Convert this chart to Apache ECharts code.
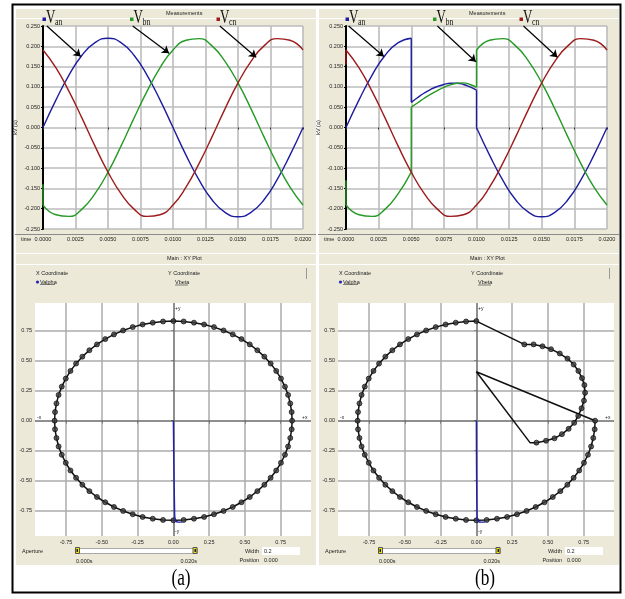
<!DOCTYPE html>
<html>
<head>
<meta charset="utf-8">
<title>Van Vbn Vcn / XY Plot</title>
<script src="https://cdn.jsdelivr.net/npm/echarts@6/dist/echarts.min.js"></script>
<style>
html, body { margin: 0; padding: 0; background: #fff; }
#main { width: 625px; height: 599px; }
</style>
</head>
<body>
<div id="main"></div>
<script>
// Measurements : sample instants (s) and phase voltages (kV)
var timeS = [0, 0.001, 0.002, 0.003, 0.004, 0.005, 0.006, 0.007, 0.008, 0.009, 0.010,
             0.011, 0.012, 0.013, 0.014, 0.015, 0.016, 0.017, 0.018, 0.019, 0.020];
var vanA = [0, 0.068, 0.129, 0.178, 0.209, 0.220, 0.209, 0.178, 0.129, 0.068, 0,
            -0.068, -0.129, -0.178, -0.209, -0.220, -0.209, -0.178, -0.129, -0.068, 0];
var vbnA = [-0.191, -0.215, -0.219, -0.201, -0.163, -0.110, -0.046, 0.023, 0.089, 0.147, 0.191,
            0.215, 0.219, 0.201, 0.163, 0.110, 0.046, -0.023, -0.089, -0.147, -0.191];
var vcnA = [0.191, 0.147, 0.089, 0.023, -0.046, -0.110, -0.163, -0.201, -0.219, -0.215, -0.191,
            -0.147, -0.089, -0.023, 0.046, 0.110, 0.163, 0.201, 0.219, 0.215, 0.191];
// first sample of some traces, before they land on the sine
var vbnStartA = -0.14;
var vbnStartB = -0.13;
var vcnStartB = 0.155;

// (b) fault window 0.005 s .. 0.010 s
var faultT = [0.005, 0.0055, 0.006, 0.0065, 0.007, 0.0075, 0.008, 0.0085, 0.009, 0.0095, 0.010];
var faultVan = [0.062, 0.074, 0.085, 0.094, 0.101, 0.106, 0.109, 0.109, 0.106, 0.100, 0.092];
var faultVbn = [0.050, 0.061, 0.072, 0.082, 0.091, 0.099, 0.105, 0.109, 0.110, 0.106, 0.099];

// XY Plot : Valpha / Vbeta samples
var valpha = [
    0.000, 0.072, 0.144, 0.215, 0.284, 0.351, 0.415, 0.476, 0.534, 0.587, 0.636, 0.680, 0.719, 0.752, 0.780, 0.802, 0.817, 0.827,
    0.830, 0.827, 0.817, 0.802, 0.780, 0.752, 0.719, 0.680, 0.636, 0.587, 0.534, 0.476, 0.415, 0.351, 0.284, 0.215, 0.144, 0.072,
    0.000, -0.072, -0.144, -0.215, -0.284, -0.351, -0.415, -0.476, -0.534, -0.587, -0.636, -0.680, -0.719, -0.752, -0.780, -0.802, -0.817, -0.827,
    -0.830, -0.827, -0.817, -0.802, -0.780, -0.752, -0.719, -0.680, -0.636, -0.587, -0.534, -0.476, -0.415, -0.351, -0.284, -0.215, -0.144, -0.072
];
var vbeta = [
    -0.830, -0.827, -0.817, -0.802, -0.780, -0.752, -0.719, -0.680, -0.636, -0.587, -0.534, -0.476, -0.415, -0.351, -0.284, -0.215, -0.144, -0.072,
    0.000, 0.072, 0.144, 0.215, 0.284, 0.351, 0.415, 0.476, 0.534, 0.587, 0.636, 0.680, 0.719, 0.752, 0.780, 0.802, 0.817, 0.827,
    0.830, 0.827, 0.817, 0.802, 0.780, 0.752, 0.719, 0.680, 0.636, 0.587, 0.534, 0.476, 0.415, 0.351, 0.284, 0.215, 0.144, 0.072,
    0.000, -0.072, -0.144, -0.215, -0.284, -0.351, -0.415, -0.476, -0.534, -0.587, -0.636, -0.680, -0.719, -0.752, -0.780, -0.802, -0.817, -0.827
];
var startAlphaA = [0, 0.009, 0.016, 0.035, 0.06];
var startBetaA = [0, -0.78, -0.835, -0.845, -0.845];
var startAlphaB = [0, 0.005, 0.014, 0.035, 0.06];
var startBetaB = [0, -0.80, -0.84, -0.845, -0.845];
// (b) fault part of the trajectory
var jumpAlphaB = [0.000, 0.375];
var jumpBetaB = [0.408, -0.183];
var arcAlphaB = [0.420, 0.487, 0.546, 0.598, 0.645, 0.684, 0.712, 0.735, 0.752, 0.760, 0.755, 0.738, 0.713, 0.680, 0.637, 0.583, 0.522, 0.462, 0.400, 0.335];
var arcBetaB = [-0.183, -0.167, -0.147, -0.112, -0.068, -0.018, 0.040, 0.103, 0.167, 0.233, 0.297, 0.355, 0.415, 0.468, 0.518, 0.560, 0.596, 0.620, 0.636, 0.636];

var xyTicks = [-0.75, -0.5, -0.25, 0, 0.25, 0.5, 0.75];
var gridVals = [-0.75, -0.5, -0.25, 0.25, 0.5, 0.75];

var C_AN = '#1d1da0', C_BN = '#259a25', C_CN = '#9c1b1b';
var FONT = '"Liberation Sans", Arial, sans-serif';
var SERIF = '"Liberation Serif", "Times New Roman", serif';
var BEIGE = '#ece9d8';

function pairs(xs, ys, from, to) {
    var out = [];
    if (from === undefined) from = 0;
    if (to === undefined) to = xs.length - 1;
    for (var i = from; i <= to; i++) out.push([xs[i], ys[i]]);
    return out;
}
function fmt(n) {
    return function (v) { if (Math.abs(v) < 1e-9) v = 0; return v.toFixed(n); };
}

function wave(data, color, gi) {
    return {
        type: 'line', xAxisIndex: gi, yAxisIndex: gi, data: data,
        smooth: 0.5, showSymbol: false, symbol: 'none', silent: true, z: 3,
        lineStyle: {color: color, width: 1.4}, itemStyle: {color: color}
    };
}
function jump(data, color, gi) {
    return {
        type: 'line', xAxisIndex: gi, yAxisIndex: gi, data: data,
        smooth: false, showSymbol: false, symbol: 'none', silent: true, z: 3,
        lineStyle: {color: color, width: 1.4}
    };
}
function arrows(list) {
    return {
        silent: true, symbol: ['none', 'arrow'], symbolSize: 7, z: 6,
        label: {show: false},
        lineStyle: {color: '#000', width: 1.2, type: 'solid'},
        data: list.map(function (a) { return [{coord: a[0]}, {coord: a[1]}]; })
    };
}
function gridLines() {
    var d = [];
    gridVals.forEach(function (v) { d.push({xAxis: v}); d.push({yAxis: v}); });
    d.push({xAxis: 0, lineStyle: {color: '#6a6a6a', width: 1.5}});
    d.push({yAxis: 0, lineStyle: {color: '#6a6a6a', width: 1.5}});
    return {
        silent: true, symbol: 'none', z: 1, label: {show: false},
        lineStyle: {color: '#ababab', width: 1.5, type: 'solid'},
        data: d
    };
}

// annotation arrows (time, kV) - start on the top edge of the plot
var arrowsA = [
    [[0.0003, 0.2499], [0.0029, 0.175]],
    [[0.0069, 0.2499], [0.0097, 0.183]],
    [[0.0136, 0.2499], [0.0164, 0.173]]
];
var arrowsB = [
    [[0.0002, 0.2499], [0.0029, 0.175]],
    [[0.0070, 0.2499], [0.00995, 0.162]],
    [[0.0136, 0.2499], [0.0162, 0.173]]
];

var series = [];
// (a) Measurements
var sa = wave(pairs(timeS, vanA), C_AN, 0);
sa.markLine = arrows(arrowsA);
series.push(sa);
series.push(wave(pairs(timeS, vbnA), C_BN, 0));
series.push(wave(pairs(timeS, vcnA), C_CN, 0));
series.push(jump([[0, vbnStartA], [0, vbnA[0]]], C_BN, 0));

// (b) Measurements
var sb = wave(pairs(timeS, vanA, 0, 5), C_AN, 1);
sb.markLine = arrows(arrowsB);
series.push(sb);
series.push(wave(pairs(faultT, faultVan), C_AN, 1));
series.push(wave(pairs(timeS, vanA, 10, 20), C_AN, 1));
series.push(jump([[timeS[5], vanA[5]], [faultT[0], faultVan[0]]], C_AN, 1));
series.push(jump([[faultT[10], faultVan[10]], [timeS[10], vanA[10]]], C_AN, 1));
series.push(wave(pairs(timeS, vbnA, 0, 5), C_BN, 1));
series.push(wave(pairs(faultT, faultVbn), C_BN, 1));
series.push(wave(pairs(timeS, vbnA, 10, 20), C_BN, 1));
series.push(jump([[timeS[5], vbnA[5]], [faultT[0], faultVbn[0]]], C_BN, 1));
series.push(jump([[faultT[10], faultVbn[10]], [timeS[10], vbnA[10]]], C_BN, 1));
series.push(jump([[0, vbnStartB], [0, vbnA[0]]], C_BN, 1));
series.push(wave(pairs(timeS, vcnA), C_CN, 1));
series.push(jump([[0, vcnStartB], [0, vcnA[0]]], C_CN, 1));

// XY plots
function pathLine(data, gi) {
    return {
        type: 'line', xAxisIndex: gi, yAxisIndex: gi, data: data, smooth: false,
        showSymbol: false, symbol: 'none', silent: true, z: 3,
        lineStyle: {color: '#111', width: 1.5},
        markLine: gridLines()
    };
}
function dots(data, gi) {
    return {
        type: 'scatter', xAxisIndex: gi, yAxisIndex: gi, data: data, silent: true, z: 4,
        symbol: 'circle', symbolSize: 5,
        itemStyle: {color: '#3b3b3b', borderColor: '#000', borderWidth: 0.8}
    };
}
function startTrace(data, gi) {
    return {
        type: 'line', xAxisIndex: gi, yAxisIndex: gi, data: data, smooth: 0.3,
        showSymbol: false, symbol: 'none', silent: true, z: 5,
        lineStyle: {color: '#2020b0', width: 1.4}
    };
}
var loopA = pairs(valpha, vbeta).concat([[valpha[0], vbeta[0]]]);
series.push(pathLine(loopA, 2));
series.push(dots(pairs(valpha, vbeta), 2));
series.push(startTrace(pairs(startAlphaA, startBetaA), 2));

var loopB = pairs(valpha, vbeta, 0, 18)
    .concat(pairs(jumpAlphaB, jumpBetaB))
    .concat(pairs(arcAlphaB, arcBetaB))
    .concat(pairs(valpha, vbeta, 36, 71))
    .concat([[valpha[0], vbeta[0]]]);
series.push(pathLine(loopB, 3));
series.push(dots(pairs(valpha, vbeta, 0, 18).concat(pairs(arcAlphaB, arcBetaB)).concat(pairs(valpha, vbeta, 36, 71)), 3));
series.push(startTrace(pairs(startAlphaB, startBetaB), 3));

function timeAxis(gi) {
    return {
        gridIndex: gi, type: 'value', min: 0, max: 0.02, interval: 0.0025, offset: 5,
        axisLine: {show: false},
        axisTick: {show: true, length: 2, lineStyle: {color: '#333'}},
        axisLabel: {fontSize: 5.5, fontFamily: FONT, color: '#222', margin: 2, formatter: fmt(4)},
        splitLine: {show: true, lineStyle: {color: '#bcbcbc', width: 1.6}}
    };
}
function kvAxis(gi) {
    return {
        gridIndex: gi, type: 'value', min: -0.25, max: 0.25, interval: 0.05,
        name: 'kV (a)', nameLocation: 'middle', nameGap: 25, nameRotate: 90,
        nameTextStyle: {fontSize: 5.5, fontFamily: FONT, color: '#222'},
        axisLine: {show: true, onZero: false, lineStyle: {color: '#000', width: 2}},
        axisTick: {show: true, length: 2, lineStyle: {color: '#000'}},
        axisLabel: {fontSize: 5.5, fontFamily: FONT, color: '#222', margin: 3, formatter: fmt(3)},
        splitLine: {show: true, lineStyle: {color: '#bcbcbc', width: 1.6}}
    };
}
function xyX(gi) {
    return {
        gridIndex: gi, type: 'value', min: -0.967, max: 0.962,
        axisLine: {show: false},
        axisTick: {show: true, customValues: xyTicks, length: 3, lineStyle: {color: '#000'}},
        axisLabel: {customValues: xyTicks, fontSize: 5.5, fontFamily: FONT, color: '#222', margin: 3, formatter: fmt(2)},
        splitLine: {show: false}
    };
}
function xyY(gi) {
    return {
        gridIndex: gi, type: 'value', min: -0.961, max: 0.981,
        axisLine: {show: false},
        axisTick: {show: true, customValues: xyTicks, length: 2, lineStyle: {color: '#000'}},
        axisLabel: {customValues: xyTicks, fontSize: 5.5, fontFamily: FONT, color: '#222', margin: 3, formatter: fmt(2)},
        splitLine: {show: false}
    };
}

// ---- decoration (panels, headers, controls)
function txt(x, y, s, o) {
    o = o || {};
    return {
        type: 'text', x: x, y: y, z: 50, silent: true, scaleX: o.scaleX || 1,
        style: {
            text: s, fontSize: o.size || 5.5, fontFamily: o.family || FONT, fill: o.color || '#222',
            align: o.align || 'left', textAlign: o.align || 'left',
            verticalAlign: 'middle', textVerticalAlign: 'middle'
        }
    };
}
function ln(x1, y1, x2, y2, color, w, z) {
    return {type: 'line', z: z === undefined ? -5 : z, silent: true,
        shape: {x1: x1, y1: y1, x2: x2, y2: y2}, style: {stroke: color, lineWidth: w}};
}
function rc(x, y, w, h, fill, stroke, z) {
    return {type: 'rect', z: z === undefined ? -5 : z, silent: true,
        shape: {x: x, y: y, width: w, height: h},
        style: {fill: fill, stroke: stroke || null, lineWidth: stroke ? 1 : 0}};
}

var vLabels = [
    {sub: 'an', color: C_AN, x: 42.5},
    {sub: 'bn', color: C_BN, x: 130},
    {sub: 'cn', color: C_CN, x: 216.5}
];

function panel(dx) {
    var g = [];
    g.push(rc(15 + dx, 8, 301, 557, BEIGE, null, -10));
    [8.5, 18.5, 253.5, 264.5].forEach(function (y) { g.push(ln(15 + dx, y, 316 + dx, y, '#fff', 1)); });
    g.push(ln(15.5 + dx, 8, 15.5 + dx, 565, '#fff', 1));
    g.push(ln(15 + dx, 234.5, 316 + dx, 234.5, '#8a8a8a', 1));
    g.push(txt(166 + dx, 13.5, 'Measurements'));
    g.push(txt(21 + dx, 239.5, 'time'));
    g.push(txt(167 + dx, 258.5, 'Main : XY Plot'));
    g.push(txt(36 + dx, 273, 'X Coordinate'));
    g.push({type: 'circle', z: 50, silent: true, shape: {cx: 37.5 + dx, cy: 282, r: 1.6}, style: {fill: '#2626b8'}});
    g.push(txt(40 + dx, 282, 'Valpha'));
    g.push(ln(40 + dx, 284.5, 55 + dx, 284.5, '#333', 0.6, 50));
    g.push(txt(168 + dx, 273, 'Y Coordinate'));
    g.push(txt(175 + dx, 282.5, 'Vbeta'));
    g.push(ln(175 + dx, 285, 188 + dx, 285, '#333', 0.6, 50));
    g.push(ln(306.5 + dx, 268, 306.5 + dx, 279, '#999', 1));
    g.push(txt(175 + dx, 309, '+y', {size: 5}));
    g.push(txt(175 + dx, 532, '-y', {size: 5}));
    g.push(txt(37 + dx, 418, '-x', {size: 5}));
    g.push(txt(302 + dx, 418, '+x', {size: 5}));
    // aperture slider
    g.push(txt(22 + dx, 551, 'Aperture'));
    g.push(rc(75.5 + dx, 548.5, 122, 5, '#fff', '#a8a8a8', 20));
    g.push(rc(75.5 + dx, 547.5, 4, 6, '#f2e200', '#555', 21));
    g.push(rc(193 + dx, 547.5, 4, 6, '#f2e200', '#555', 21));
    g.push(rc(76.5 + dx, 549, 1.5, 3, '#222', null, 22));
    g.push(rc(194.5 + dx, 549, 1.5, 3, '#222', null, 22));
    g.push(txt(76 + dx, 561, '0.000s'));
    g.push(txt(197 + dx, 561, '0.020s', {align: 'right'}));
    g.push(txt(259 + dx, 551, 'Width', {align: 'right'}));
    g.push(rc(262 + dx, 547, 38, 8, '#fff', null, 20));
    g.push(txt(264 + dx, 551, '0.2'));
    g.push(txt(259 + dx, 560, 'Position', {align: 'right'}));
    g.push(txt(264 + dx, 560, '0.000'));
    // V labels
    vLabels.forEach(function (v) {
        g.push(rc(v.x + dx, 17.5, 3.5, 3.5, v.color, null, 60));
        g.push(txt(v.x + dx + 3.5, 18.5, 'V', {size: 18, family: SERIF, color: '#111', scaleX: 0.72}));
        g.push(txt(v.x + dx + 12.5, 21.8, v.sub, {size: 11, family: SERIF, color: '#111', scaleX: 0.72}));
    });
    return g;
}

var graphics = panel(0).concat(panel(303));
graphics.push(txt(181, 579, '(a)', {size: 24, family: SERIF, color: '#000', align: 'center', scaleX: 0.72}));
graphics.push(txt(485, 579, '(b)', {size: 24, family: SERIF, color: '#000', align: 'center', scaleX: 0.72}));
graphics.push({type: 'rect', z: 90, silent: true, shape: {x: 12.5, y: 4.5, width: 608, height: 588},
    style: {fill: null, stroke: '#000', lineWidth: 2}});

var myChart = echarts.init(document.getElementById('main'), null, {renderer: 'canvas'});
var option = {
    animation: false,
    backgroundColor: '#fff',
    grid: [
        {left: 43, top: 26, width: 260, height: 203, show: true, backgroundColor: '#fff', borderWidth: 0},
        {left: 346, top: 26, width: 261, height: 203, show: true, backgroundColor: '#fff', borderWidth: 0},
        {left: 35, top: 303, width: 276, height: 233, show: true, backgroundColor: '#fff', borderWidth: 0},
        {left: 338, top: 303, width: 276, height: 233, show: true, backgroundColor: '#fff', borderWidth: 0}
    ],
    xAxis: [timeAxis(0), timeAxis(1), xyX(2), xyX(3)],
    yAxis: [kvAxis(0), kvAxis(1), xyY(2), xyY(3)],
    graphic: {elements: graphics},
    series: series
};
myChart.setOption(option);
</script>
</body>
</html>
